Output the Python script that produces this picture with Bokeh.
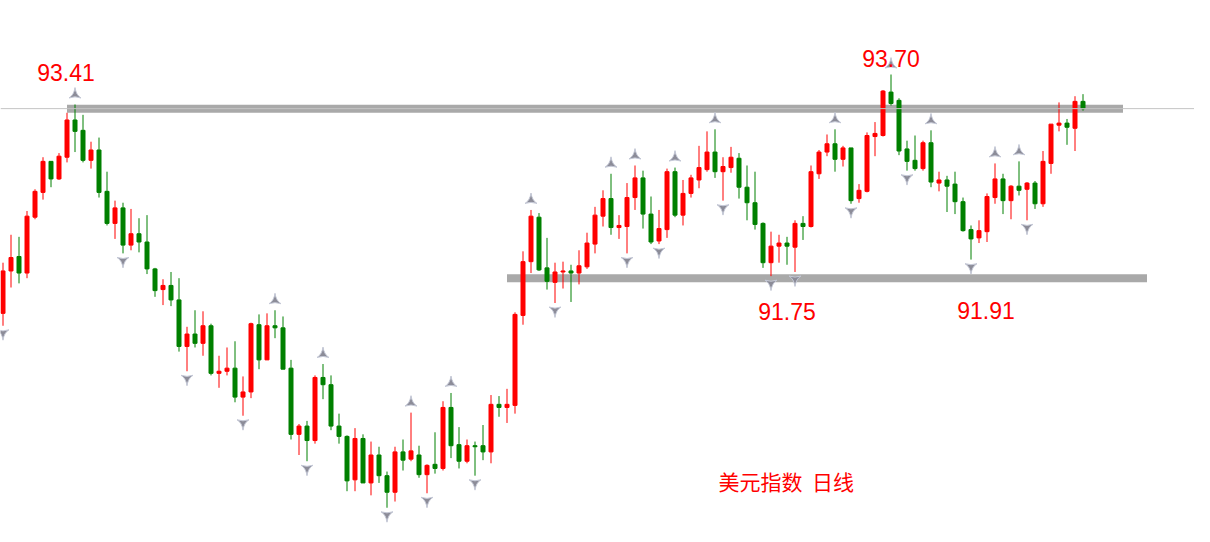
import numpy as np
from bokeh.plotting import figure
from bokeh.models import ColumnDataSource, Range1d, Span, Label
from bokeh.embed import file_html
from bokeh.resources import INLINE

# ---- daily OHLC of the US dollar index ----
opens = [91.39, 91.80, 91.94, 91.78, 92.32, 92.56, 92.86, 92.69, 92.90, 93.26,
         93.16, 92.87, 92.97, 92.57, 92.26, 92.41, 92.05, 92.16, 92.08, 91.82,
         91.62, 91.66, 91.52, 91.07, 91.19, 91.10, 91.27, 90.81, 90.83, 90.86,
         90.58, 90.63, 91.28, 90.94, 91.27, 91.25, 90.86, 90.22, 90.30, 90.16,
         90.77, 90.70, 90.30, 90.20, 89.78, 90.18, 89.75, 90.02, 89.82, 89.66,
         90.05, 89.98, 90.02, 89.83, 89.93, 89.89, 90.48, 90.12, 89.96, 90.11,
         90.11, 90.05, 90.51, 90.48, 90.50, 91.37, 91.89, 92.32, 91.83, 91.69,
         91.79, 91.80, 91.78, 91.84, 92.06, 92.33, 92.50, 92.22, 92.23, 92.51,
         92.70, 92.35, 92.09, 92.20, 92.76, 92.34, 92.55, 92.68, 92.78, 92.95,
         92.76, 92.80, 92.89, 92.61, 92.46, 92.26, 91.88, 92.04, 92.07, 92.03,
         92.26, 92.23, 92.74, 92.95, 93.03, 92.88, 92.99, 92.50, 92.57, 93.10,
         93.11, 93.53, 93.45, 92.98, 92.87, 92.79, 93.04, 92.65, 92.68, 92.64,
         92.47, 92.20, 92.12, 92.18, 92.51, 92.69, 92.48, 92.62, 92.59, 92.65,
         92.45, 92.84, 93.21, 93.23, 93.18, 93.44]
highs = [91.88, 92.15, 92.13, 92.38, 92.59, 92.90, 92.86, 92.94, 93.33, 93.41,
         93.31, 93.05, 93.09, 92.76, 92.48, 92.46, 92.40, 92.31, 92.34, 91.83,
         91.72, 91.79, 91.73, 91.26, 91.42, 91.41, 91.29, 90.98, 91.06, 91.12,
         90.78, 91.30, 91.38, 91.39, 91.42, 91.36, 90.94, 90.32, 90.35, 90.79,
         90.90, 90.79, 90.42, 90.21, 90.28, 90.22, 90.15, 90.10, 89.86, 90.10,
         90.17, 90.43, 90.11, 89.93, 90.24, 90.54, 90.62, 90.29, 90.17, 90.15,
         90.31, 90.60, 90.59, 90.66, 91.40, 91.99, 92.39, 92.36, 92.12, 91.88,
         91.89, 91.86, 92.00, 92.17, 92.42, 92.58, 92.74, 92.34, 92.65, 92.82,
         92.77, 92.52, 92.39, 92.79, 92.80, 92.68, 92.73, 93.01, 93.15, 93.17,
         92.90, 93.00, 92.94, 92.82, 92.76, 92.27, 92.18, 92.15, 92.13, 92.29,
         92.33, 92.82, 92.97, 93.12, 93.17, 93.01, 92.99, 92.64, 93.14, 93.24,
         93.55, 93.70, 93.47, 93.06, 93.11, 93.06, 93.16, 92.76, 92.72, 92.76,
         92.51, 92.24, 92.29, 92.55, 92.84, 92.74, 92.63, 92.86, 92.66, 92.67,
         92.96, 93.22, 93.43, 93.27, 93.49, 93.51]
lows = [91.27, 91.64, 91.68, 91.73, 92.30, 92.49, 92.61, 92.68, 92.85, 92.95,
        92.85, 92.79, 92.51, 92.24, 92.11, 91.97, 92.00, 91.98, 91.77, 91.55,
        91.47, 91.46, 91.02, 90.83, 91.06, 90.98, 90.79, 90.67, 90.79, 90.53,
        90.40, 90.57, 90.85, 90.94, 91.15, 90.85, 90.17, 90.02, 89.96, 90.13,
        90.56, 90.26, 90.13, 89.67, 89.67, 89.75, 89.63, 89.75, 89.51, 89.57,
        89.87, 89.96, 89.80, 89.65, 89.84, 89.87, 89.99, 89.89, 89.94, 89.82,
        89.97, 89.94, 90.39, 90.33, 90.42, 91.28, 91.78, 91.80, 91.62, 91.49,
        91.63, 91.50, 91.67, 91.82, 91.97, 92.23, 92.15, 92.11, 91.97, 92.39,
        92.21, 92.06, 92.06, 92.12, 92.32, 92.24, 92.51, 92.60, 92.76, 92.70,
        92.48, 92.75, 92.50, 92.29, 92.20, 91.83, 91.75, 91.88, 91.86, 91.79,
        92.10, 92.22, 92.69, 92.91, 92.76, 92.81, 92.45, 92.46, 92.56, 92.91,
        93.10, 93.40, 92.92, 92.77, 92.77, 92.77, 92.61, 92.57, 92.37, 92.35,
        92.18, 91.91, 92.07, 92.08, 92.45, 92.35, 92.30, 92.53, 92.29, 92.40,
        92.42, 92.74, 93.15, 93.02, 92.96, 93.35]
closes = [91.80, 91.93, 91.78, 92.33, 92.57, 92.86, 92.69, 92.91, 93.26, 93.15,
          92.87, 92.97, 92.56, 92.26, 92.41, 92.05, 92.16, 92.08, 91.82, 91.61,
          91.66, 91.52, 91.07, 91.19, 91.10, 91.27, 90.81, 90.83, 90.86, 90.58,
          90.63, 91.29, 90.94, 91.27, 91.25, 90.85, 90.22, 90.30, 90.16, 90.77,
          90.70, 90.30, 90.20, 89.77, 90.18, 89.75, 90.02, 89.82, 89.66, 90.05,
          89.97, 90.06, 89.83, 89.92, 89.89, 90.48, 90.11, 89.96, 90.11, 90.10,
          90.05, 90.51, 90.48, 90.51, 91.38, 91.89, 92.33, 91.81, 91.70, 91.79,
          91.80, 91.78, 91.85, 92.07, 92.34, 92.50, 92.22, 92.24, 92.51, 92.70,
          92.35, 92.08, 92.21, 92.76, 92.34, 92.55, 92.70, 92.80, 92.95, 92.76,
          92.81, 92.90, 92.61, 92.46, 92.25, 91.88, 92.04, 92.07, 92.04, 92.26,
          92.23, 92.76, 92.95, 93.03, 92.88, 92.99, 92.48, 92.58, 93.11, 93.13,
          93.54, 93.42, 92.96, 92.86, 92.79, 93.04, 92.66, 92.68, 92.62, 92.47,
          92.19, 92.11, 92.19, 92.52, 92.69, 92.48, 92.62, 92.58, 92.65, 92.45,
          92.86, 93.22, 93.23, 93.19, 93.44, 93.37]

# fractal markers (bar indices)
up_fractals = [9, 34, 40, 51, 56, 66, 76, 79, 84, 89, 104, 111, 116, 124, 127]
down_fractals = [0, 15, 23, 30, 38, 48, 53, 59, 69, 78, 82, 90, 96, 99, 106, 113, 121, 128]

# horizontal levels drawn on the chart (price, first bar, last bar)
resistance_level, resistance_from, resistance_to = 93.37, 8, 140
support_level, support_from, support_to = 91.73, 63, 143

# annotated extremes
peak_idx = [9, 111]
trough_idx = [96, 121]
title_text = "美元指数\u00a0 日线"

# ---- figure ----
W, H = 1194, 526
PX_PER_BAR = 8.0
PX_PER_UNIT = 103.4
Y1 = 94.4157
Y0 = Y1 - H / PX_PER_UNIT
X0 = -2.5 / PX_PER_BAR
X1 = X0 + W / PX_PER_BAR
ppu = PX_PER_UNIT

o = np.array(opens); h = np.array(highs); l = np.array(lows); c = np.array(closes)
idx = np.arange(len(o))
colors = np.where(c > o, "#ff0000", "#008000")

p = figure(width=W, height=H, x_range=Range1d(X0, X1), y_range=Range1d(Y0, Y1),
           x_axis_type=None, y_axis_type=None, output_backend="svg",
           toolbar_location=None, min_border=0, outline_line_color=None,
           background_fill_color="white", border_fill_color="white")
p.xgrid.visible = False
p.ygrid.visible = False

# thick level lines
p.segment(x0=[resistance_from], y0=[resistance_level], x1=[resistance_to], y1=[resistance_level],
          line_width=8, line_color="#a9a9a9", line_cap="butt")
p.segment(x0=[support_from], y0=[support_level], x1=[support_to], y1=[support_level],
          line_width=8, line_color="#a9a9a9", line_cap="butt")
# current price line
p.add_layout(Span(location=closes[-1], dimension="width", line_color="#c4c4c4", line_width=1))

src = ColumnDataSource(dict(x=idx, h=h, l=l, top=np.maximum(o, c), bot=np.minimum(o, c), color=colors))
p.segment(x0="x", y0="h", x1="x", y1="l", line_color="color", line_width=1, source=src)
p.vbar(x="x", width=0.5, top="top", bottom="bot", fill_color="color", line_color="color",
       line_width=1, source=src)

# fractal arrows
p.scatter(x=up_fractals, y=[highs[i] + 10.0 / ppu for i in up_fractals], marker="triangle_pin",
          size=12, fill_color="#8c8c98", line_color="#c4c8d6", line_width=1)
p.scatter(x=down_fractals, y=[lows[i] - 7.5 / ppu for i in down_fractals], marker="triangle_pin",
          angle=np.pi, size=12, fill_color="#8c8c98", line_color="#c4c8d6", line_width=1)

# price labels
peak_offsets = [(-9, 32), (0, 16)]
for i, (dx, dy) in zip(peak_idx, peak_offsets):
    p.add_layout(Label(x=i, y=highs[i], x_offset=dx, y_offset=dy, text=f"{highs[i]:.2f}",
                       text_align="center", text_baseline="alphabetic", text_font="Liberation Sans",
                       text_font_size="23px", text_color="#ff0000"))
trough_offsets = [(16, -35), (15, -51)]
for i, (dx, dy) in zip(trough_idx, trough_offsets):
    p.add_layout(Label(x=i, y=lows[i], x_offset=dx, y_offset=dy, text=f"{lows[i]:.2f}",
                       text_align="center", text_baseline="alphabetic", text_font="Liberation Sans",
                       text_font_size="23px", text_color="#ff0000"))

p.add_layout(Label(x=718, y=H - 480, x_units="screen", y_units="screen", text=title_text,
                   text_align="left", text_baseline="middle", text_font="Noto Sans CJK SC",
                   text_font_size="21px", text_color="#ff0000"))

open("out.html", "w").write(file_html(p, INLINE))
